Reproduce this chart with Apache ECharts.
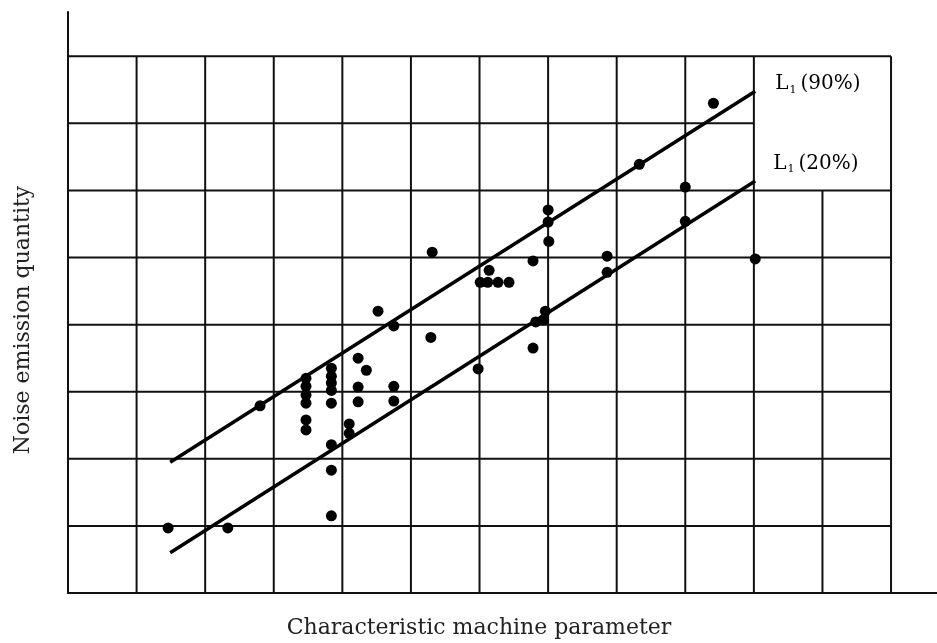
<!DOCTYPE html>
<html>
<head>
<meta charset="utf-8">
<script src="https://cdn.jsdelivr.net/npm/echarts@6/dist/echarts.min.js"></script>
<style>
html,body{margin:0;padding:0;background:#fff;}
#c{width:937px;height:643px;}
</style>
</head>
<body>
<div id="c"></div>
<script>
// ---- data ----
const pointX = [1.46, 2.33, 2.80,
  3.47, 3.47, 3.47, 3.47, 3.47, 3.47,
  3.84, 3.84, 3.84, 3.84, 3.84, 3.84, 3.84, 3.84,
  4.10, 4.10, 4.23, 4.35, 4.23, 4.23, 4.75, 4.75, 4.52, 4.75,
  5.29, 5.31, 5.98, 6.14, 6.01, 6.12, 6.27, 6.43, 6.78,
  7.00, 7.00, 7.01, 6.78, 6.96, 6.93, 6.82,
  7.86, 7.86, 8.33, 9.00, 9.00, 9.41, 10.02];
const pointY = [0.97, 0.97, 2.79,
  3.20, 3.08, 2.95, 2.83, 2.58, 2.43,
  3.35, 3.23, 3.13, 3.02, 2.83, 2.21, 1.83, 1.15,
  2.52, 2.38, 3.50, 3.32, 3.07, 2.85, 3.08, 2.86, 4.20, 3.98,
  3.81, 5.08, 3.34, 4.81, 4.63, 4.63, 4.63, 4.63, 4.95,
  5.71, 5.53, 5.24, 3.65, 4.20, 4.07, 4.04,
  5.02, 4.78, 6.39, 6.05, 5.54, 7.30, 4.98];
const lineX = [1.49, 10.02];
const line90Y = [1.95, 7.48];
const line20Y = [0.60, 6.14];
const lineNames = ['(90%)', '(20%)'];
const xGridTicks = [1, 2, 3, 4, 5, 6, 7, 8, 9, 10, 11, 12];
const yGridTicks = [1, 2, 3, 4, 5, 6, 7, 8];
const xTitle = 'Characteristic machine parameter';
const yTitle = 'Noise emission quantity';

// ---- chart ----
const FONT = '"DejaVu Serif", "Liberation Serif", serif';
const chart = echarts.init(document.getElementById('c'), null, {renderer: 'canvas'});

const segments = [];
xGridTicks.forEach(x => segments.push([x, 0, x, x === 11 ? 6 : 8]));
yGridTicks.forEach(y => segments.push([0, y, y === 7 ? 10 : 12, y]));

const scatterData = pointX.map((x, i) => [x, pointY[i]]);

const axisCommon = {
  type: 'value',
  axisLine: {show: true, onZero: false, lineStyle: {color: '#111', width: 2}},
  axisTick: {show: false},
  axisLabel: {show: false},
  splitLine: {show: false}
};

chart.setOption({
  animation: false,
  backgroundColor: '#fff',
  grid: {left: 68, right: 0, top: 12, bottom: 50},
  xAxis: Object.assign({}, axisCommon, {min: 0, max: 12.67}),
  yAxis: Object.assign({}, axisCommon, {min: 0, max: 8.66}),
  series: [
    {
      type: 'custom',
      silent: true,
      z: 1,
      data: segments,
      renderItem: function (params, api) {
        const a = api.coord([api.value(0), api.value(1)]);
        const b = api.coord([api.value(2), api.value(3)]);
        return {
          type: 'line',
          shape: {x1: a[0], y1: a[1], x2: b[0], y2: b[1]},
          style: {stroke: '#111', lineWidth: 2}
        };
      }
    },
    {
      type: 'line',
      z: 3,
      symbol: 'none',
      data: lineX.map((x, i) => [x, line90Y[i]]),
      lineStyle: {color: '#000', width: 3.5}
    },
    {
      type: 'line',
      z: 3,
      symbol: 'none',
      data: lineX.map((x, i) => [x, line20Y[i]]),
      lineStyle: {color: '#000', width: 3.5}
    },
    {
      type: 'scatter',
      z: 4,
      symbol: 'circle',
      symbolSize: 11,
      itemStyle: {color: '#000', opacity: 1},
      data: scatterData
    }
  ]
});

const p90 = chart.convertToPixel({gridIndex: 0}, [lineX[1], line90Y[1]]);
const p20 = chart.convertToPixel({gridIndex: 0}, [lineX[1], line20Y[1]]);
const rich = {
  L: {fontFamily: FONT, fontSize: 20, color: '#222'},
  s: {fontFamily: FONT, fontSize: 11, color: '#222', padding: [11, 4, 0, 1]},
  t: {fontFamily: FONT, fontSize: 20, color: '#222'}
};
chart.setOption({
  graphic: [
    {type: 'text', x: p90[0] + 20, y: p90[1] - 7, style: {text: '{L|L}{s|1}{t|' + lineNames[0] + '}', rich: rich, verticalAlign: 'middle'}},
    {type: 'text', x: p20[0] + 18, y: p20[1] - 17, style: {text: '{L|L}{s|1}{t|' + lineNames[1] + '}', rich: rich, verticalAlign: 'middle'}},
    {type: 'text', x: 479, y: 628, style: {text: xTitle, font: '22px ' + FONT, fill: '#222', align: 'center', verticalAlign: 'middle'}},
    {type: 'text', x: 23, y: 320, rotation: Math.PI / 2, style: {text: yTitle, font: '22px ' + FONT, fill: '#222', align: 'center', verticalAlign: 'middle'}}
  ]
});
</script>
</body>
</html>
